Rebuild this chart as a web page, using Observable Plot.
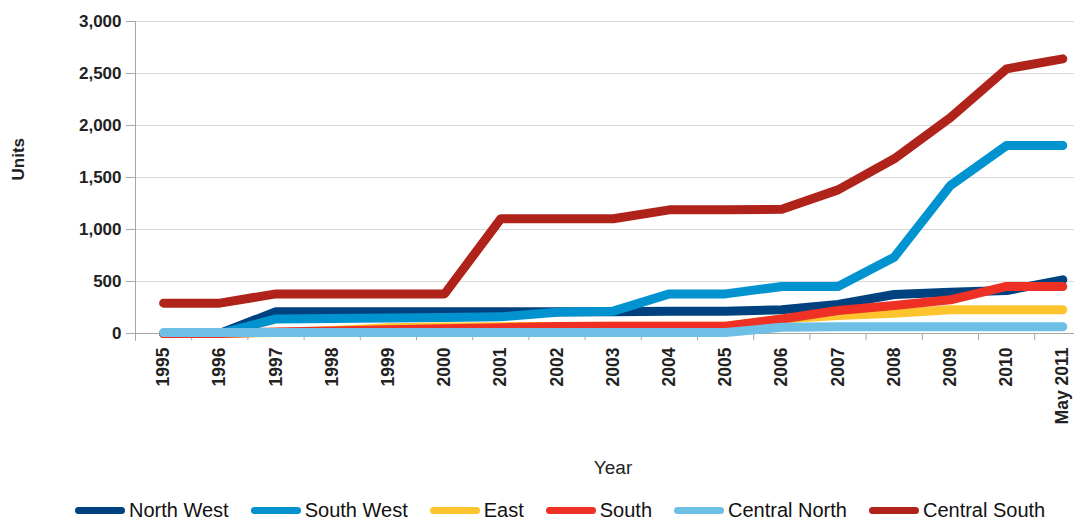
<!DOCTYPE html>
<html><head><meta charset="utf-8">
<script src="https://cdn.jsdelivr.net/npm/d3@7"></script>
<script src="https://cdn.jsdelivr.net/npm/@observablehq/plot@0.6"></script>
<style>
html,body{margin:0;padding:0;background:#fff;}
#chart svg{display:block;}
.legend{display:flex;height:35px;align-items:center;padding-left:75px;font-family:"Liberation Sans",Arial,sans-serif;font-size:20px;color:#111;box-sizing:border-box;padding-top:10px;}
.item{display:flex;align-items:center;margin-right:22px;}
.sw{width:50px;height:7px;border-radius:4px;margin-right:4px;}
</style></head><body>
<div id="chart"></div>
<script>
const years = ["1995","1996","1997","1998","1999","2000","2001","2002","2003","2004","2005","2006","2007","2008","2009","2010","May 2011"];
const seriesNames = ["North West","South West","East","South","Central North","Central South"];
const seriesColors = ["#00427f","#0093d0","#fec42d","#ee3124","#6dbfe6","#b0231a"];
const northWest    = [0,0,210,210,210,210,210,210,210,215,215,228,279,375,397,413,516];
const southWest    = [0,0,140,145,150,155,160,205,215,381,381,452,452,734,1423,1808,1808];
const east         = [0,0,10,30,55,62,66,68,70,70,70,140,173,195,228,228,228];
const south        = [0,0,15,25,35,45,55,68,70,70,70,140,221,269,324,452,452];
const centralNorth = [10,10,10,10,10,10,10,10,10,10,10,60,65,65,65,65,65];
const centralSouth = [292,292,381,381,381,381,1103,1103,1103,1189,1189,1195,1381,1680,2075,2545,2641];
const yTicks = [0,500,1000,1500,2000,2500,3000];

const allValues = [northWest, southWest, east, south, centralNorth, centralSouth];
const rows = seriesNames.flatMap((s, k) => allValues[k].map((v, i) => ({series: s, i, value: v})));
const idx = d3.range(years.length);
const bounds = d3.range(1, years.length + 1).map(i => i - 0.5);

const axisGray = "#a6a6a6";
const textCol = "#222";

const plot = Plot.plot({
  width: 1074,
  height: 488,
  marginLeft: 135,
  marginRight: 0,
  marginTop: 21,
  marginBottom: 155,
  style: {fontFamily: "'Liberation Sans', Arial, sans-serif", background: "#fff", overflow: "hidden"},
  x: {domain: [-0.5, years.length - 0.5], range: [135, 135 + 56.2 * years.length], label: null},
  y: {domain: [0, 3000], label: null},
  color: {domain: seriesNames, range: seriesColors},
  marks: [
    Plot.ruleY(yTicks.filter(d => d > 0), {stroke: "#d9d9d9", strokeWidth: 1}),
    Plot.ruleY([0], {stroke: axisGray}),
    Plot.ruleX([-0.5], {y1: -75, y2: 3000, stroke: axisGray}),
    Plot.ruleX(bounds, {y1: 0, y2: -70, stroke: axisGray}),
    Plot.axisY({ticks: yTicks, tickFormat: d3.format(","), tickSize: 9, tickPadding: 5,
      fontSize: 17, fontWeight: "bold", fill: textCol, stroke: axisGray, label: null}),
    Plot.axisX(idx, {tickFormat: i => years[i], tickRotate: -90, tickSize: 0, tickPadding: 14,
      fontSize: 17.5, fontWeight: "bold", fill: textCol, label: null}),
    Plot.line(rows, {x: "i", y: "value", z: "series", stroke: "series", strokeWidth: 9,
      strokeLinecap: "round", strokeLinejoin: "round"}),
    Plot.text(["Units"], {text: d => d, frameAnchor: "left", rotate: -90, dx: -117, dy: 3,
      fontSize: 17, fontWeight: "bold", fill: textCol}),
    Plot.text(["Year"], {text: d => d, frameAnchor: "bottom", dx: 8, dy: 140,
      fontSize: 19, fill: textCol})
  ]
});
const chart = document.getElementById("chart");
chart.appendChild(plot);

const legend = document.createElement("div");
legend.className = "legend";
seriesNames.forEach((s, k) => {
  const item = document.createElement("div");
  item.className = "item";
  const sw = document.createElement("span");
  sw.className = "sw";
  sw.style.background = seriesColors[k];
  const t = document.createElement("span");
  t.textContent = s;
  item.appendChild(sw); item.appendChild(t);
  legend.appendChild(item);
});
chart.appendChild(legend);
</script></body></html>
